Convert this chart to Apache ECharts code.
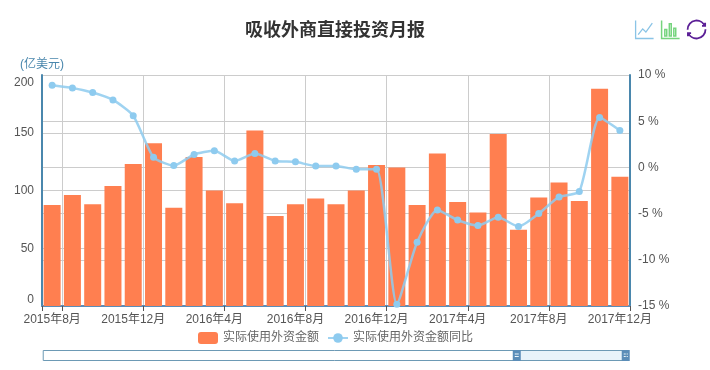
<!DOCTYPE html>
<html>
<head>
<meta charset="utf-8">
<title>吸收外商直接投资月报</title>
<style>
  html, body { margin: 0; padding: 0; background: #fff; }
  #chart { width: 710px; height: 370px; }
</style>
<script src="https://cdn.jsdelivr.net/npm/echarts@6/dist/echarts.min.js"></script>
</head>
<body>
<div id="chart"></div>
<script>
const months = [
  '2015年8月', '2015年9月', '2015年10月', '2015年11月', '2015年12月',
  '2016年1月', '2016年2月', '2016年3月', '2016年4月', '2016年5月', '2016年6月',
  '2016年7月', '2016年8月', '2016年9月', '2016年10月', '2016年11月', '2016年12月',
  '2017年1月', '2017年2月', '2017年3月', '2017年4月', '2017年5月', '2017年6月',
  '2017年7月', '2017年8月', '2017年9月', '2017年10月', '2017年11月', '2017年12月'
]
const amount = [
  87.5, 96, 88, 104, 123,
  141, 85, 129, 100, 89, 152, 78, 88, 93, 88, 100, 122,
  120, 87.5, 132, 90, 81, 149, 66, 94, 107, 91, 188, 112
]
const yoy = [
  8.9, 8.6, 8.1, 7.3, 5.6,
  1.1, 0.2, 1.4, 1.8, 0.7, 1.5, 0.7, 0.6, 0.15, 0.15, -0.2, -0.2,
  -14.8, -8.1, -4.6, -5.7, -6.3, -5.4, -6.4, -5, -3.2, -2.6, 5.4, 4
]

const fontFamily = '"Liberation Sans", "Noto Sans CJK SC", sans-serif'
const axisBlue = '#4a87ad'
const chart = echarts.init(document.getElementById('chart'))

// 刻度和竖线落在每个标签所在类目的右边界
const everyFourth = (i) => i === 0 || i % 4 === 1

const option = {
  animation: false,
  textStyle: { fontFamily },
  title: {
    text: '吸收外商直接投资月报',
    left: 240,
    top: 15,
    textStyle: { fontSize: 18, fontWeight: 'bold', color: '#333', fontFamily: '"Noto Sans CJK SC", sans-serif' }
  },
  toolbox: {
    right: -13,
    top: 3,
    itemSize: 18,
    itemGap: 3,
    feature: {
      myLine: {
        show: true,
        title: '折线图',
        icon: 'path://M2,2V58H58M10,46L24,28L34,38L54,10',
        iconStyle: { borderColor: '#8ac4e6', borderWidth: 1.3, color: 'none' },
        onclick: () => chart.setOption({ series: [{ type: 'line' }] })
      },
      myBar: {
        show: true,
        title: '柱状图',
        icon: 'path://M2,2V58H58M12,30h6V50h-6zM26,12h6V50h-6zM40,26h6V50h-6z',
        iconStyle: { borderColor: '#76d47e', borderWidth: 1.5, color: 'none' },
        onclick: () => chart.setOption({ series: [{ type: 'bar' }] })
      },
      restore: {
        iconStyle: { borderColor: '#5b1f96', borderWidth: 1.8, color: 'none' }
      }
    }
  },
  legend: {
    top: 327,
    left: 193,
    itemWidth: 20,
    itemHeight: 12,
    itemGap: 8,
    textStyle: { fontSize: 12, color: '#666', fontFamily },
    data: [
      { name: '实际使用外资金额', icon: 'roundRect' },
      { name: '实际使用外资金额同比' }
    ]
  },
  grid: { left: 42, right: 80, top: 75, bottom: 64 },
  xAxis: [
    {
      type: 'category',
      data: months,
      axisLine: { lineStyle: { color: '#5b8db8', width: 2 } },
      axisTick: { show: true, interval: everyFourth, length: 5, lineStyle: { color: '#555' } },
      axisLabel: { interval: 3, color: '#555', fontSize: 12, margin: 8 },
      splitLine: { show: true, interval: everyFourth, lineStyle: { color: '#ccc' } }
    },
    // 只给下方的滑块用
    { type: 'category', data: months, show: false }
  ],
  yAxis: [
    {
      type: 'value',
      name: '(亿美元)',
      nameGap: 4,
      nameTextStyle: { color: axisBlue, fontSize: 12, align: 'right', padding: [0, -22, 0, 0] },
      min: 0,
      max: 200,
      interval: 50,
      axisLine: { show: true, lineStyle: { color: axisBlue, width: 2 } },
      axisTick: { show: false },
      axisLabel: { color: '#555', fontSize: 12, margin: 8, padding: [2, 0, 0, 0], verticalAlignMaxLabel: 'top', verticalAlignMinLabel: 'bottom' },
      splitLine: { show: true, lineStyle: { color: '#ccc' } }
    },
    {
      type: 'value',
      min: -15,
      max: 10,
      interval: 5,
      axisLine: { show: true, lineStyle: { color: axisBlue, width: 2 } },
      axisTick: { show: false },
      axisLabel: { color: '#555', fontSize: 12, margin: 8, padding: [3, 0, 0, 0], formatter: '{value} %' },
      splitLine: { show: true, lineStyle: { color: '#ccc' } }
    }
  ],
  dataZoom: [
    {
      type: 'slider',
      xAxisIndex: 1,
      start: 81,
      end: 100,
      left: 42,
      right: 84,
      bottom: 9,
      height: 11,
      showDetail: false,
      showDataShadow: false,
      brushSelect: false,
      moveHandleSize: 0,
      backgroundColor: '#fff',
      borderColor: '#6d9ab5',
      fillerColor: '#e8f3fa',
      handleIcon: 'path://M0 0H8V11H0Z M2 4V5H6V4Z M2 6.5V7.5H6V6.5Z',
      handleSize: '100%',
      handleStyle: { color: '#5b8db8', borderColor: '#5b8db8', borderWidth: 0 }
    }
  ],
  series: [
    {
      name: '实际使用外资金额',
      type: 'bar',
      barWidth: 17,
      itemStyle: { color: '#ff7f50' },
      data: amount
    },
    {
      name: '实际使用外资金额同比',
      type: 'line',
      yAxisIndex: 1,
      symbol: 'circle',
      symbolSize: 7,
      smooth: 0.2,
      lineStyle: { color: '#8ecbef', width: 2.5, opacity: 0.85 },
      itemStyle: { color: '#8ecbef' },
      data: yoy
    }
  ]
}

chart.setOption(option)
</script>
</body>
</html>
